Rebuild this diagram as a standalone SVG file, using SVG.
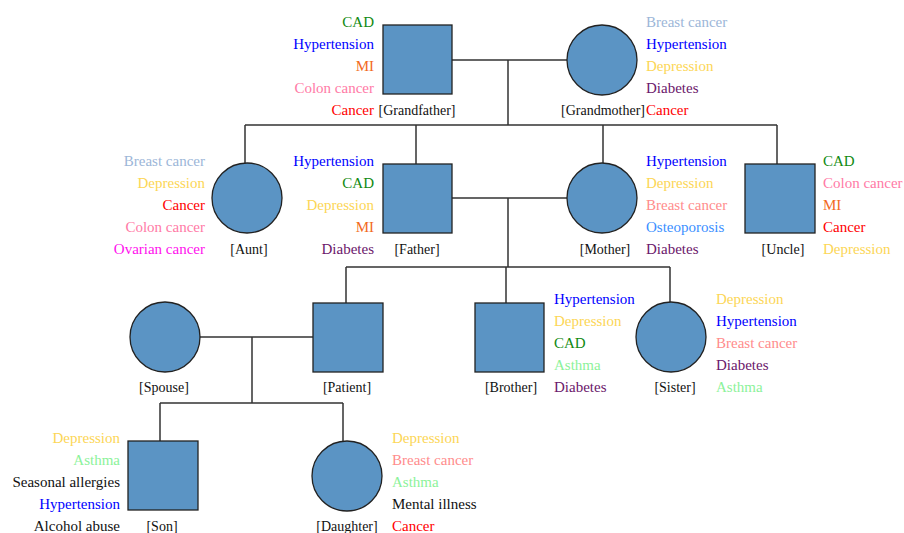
<svg xmlns="http://www.w3.org/2000/svg" width="904" height="533" viewBox="0 0 904 533">
<style>
text{font-family:"Liberation Serif","Times New Roman",serif;font-size:15px}
.lbl{font-size:14px;fill:#111}
.l{stroke:#333;stroke-width:1.5;fill:none}
.s{fill:#5b94c4;stroke:#222;stroke-width:1.3}
.r{text-anchor:end}
.m{text-anchor:middle}
.cad{fill:#118a11}.hyp{fill:#0000ff}.mi{fill:#f26a1e}.col{fill:#ff7aa6}.can{fill:#ff0000}
.bcb{fill:#9cb6d8}.bcp{fill:#ff8c8c}.dep{fill:#fcd656}.dia{fill:#6b176b}.ova{fill:#ff10ee}
.ost{fill:#3b8fff}.ast{fill:#8cf29a}.blk{fill:#111}
</style>
<rect width="904" height="533" fill="#fff"/>
<g id="connectors">
<path class="l" d="M452 60H567M508 60V125M245 125H777M245 125V163M416 125V164M603 125V163M777 125V164"/>
<path class="l" d="M452 198H567M508 198V267M346 267H670M346 267V303M506 267V303M670 267V302"/>
<path class="l" d="M199 337H313M252 337V403M160 403H343M160 403V441M343 403V441"/>
</g>
<g id="grandfather">
<rect class="s" x="383" y="25" width="69" height="69"/>
<text class="lbl m" x="417" y="115">[Grandfather]</text>
<text class="r cad" x="374" y="27">CAD</text>
<text class="r hyp" x="374" y="49">Hypertension</text>
<text class="r mi" x="374" y="71">MI</text>
<text class="r col" x="374" y="93">Colon cancer</text>
<text class="r can" x="374" y="115">Cancer</text>
</g>
<g id="grandmother">
<circle class="s" cx="602" cy="60" r="35"/>
<text class="lbl" x="645" y="115" text-anchor="end">[Grandmother]</text>
<text class="bcb" x="646" y="27">Breast cancer</text>
<text class="hyp" x="646" y="49">Hypertension</text>
<text class="dep" x="646" y="71">Depression</text>
<text class="dia" x="646" y="93">Diabetes</text>
<text class="can" x="646" y="115">Cancer</text>
</g>
<g id="aunt">
<circle class="s" cx="247" cy="198" r="35"/>
<text class="lbl m" x="249" y="254">[Aunt]</text>
<text class="r bcb" x="205" y="166">Breast cancer</text>
<text class="r dep" x="205" y="188">Depression</text>
<text class="r can" x="205" y="210">Cancer</text>
<text class="r col" x="205" y="232">Colon cancer</text>
<text class="r ova" x="205" y="254">Ovarian cancer</text>
</g>
<g id="father">
<rect class="s" x="383" y="164" width="69" height="69"/>
<text class="lbl m" x="417" y="254">[Father]</text>
<text class="r hyp" x="374" y="166">Hypertension</text>
<text class="r cad" x="374" y="188">CAD</text>
<text class="r dep" x="374" y="210">Depression</text>
<text class="r mi" x="374" y="232">MI</text>
<text class="r dia" x="374" y="254">Diabetes</text>
</g>
<g id="mother">
<circle class="s" cx="602" cy="198" r="35"/>
<text class="lbl m" x="605" y="254">[Mother]</text>
<text class="hyp" x="646" y="166">Hypertension</text>
<text class="dep" x="646" y="188">Depression</text>
<text class="bcp" x="646" y="210">Breast cancer</text>
<text class="ost" x="646" y="232">Osteoporosis</text>
<text class="dia" x="646" y="254">Diabetes</text>
</g>
<g id="uncle">
<rect class="s" x="745" y="164" width="70" height="69"/>
<text class="lbl m" x="783" y="254">[Uncle]</text>
<text class="cad" x="823" y="166">CAD</text>
<text class="col" x="823" y="188">Colon cancer</text>
<text class="mi" x="823" y="210">MI</text>
<text class="can" x="823" y="232">Cancer</text>
<text class="dep" x="823" y="254">Depression</text>
</g>
<g id="spouse">
<circle class="s" cx="165" cy="337" r="35"/>
<text class="lbl m" x="164" y="392">[Spouse]</text>
</g>
<g id="patient">
<rect class="s" x="313" y="303" width="70" height="69"/>
<text class="lbl m" x="347" y="392">[Patient]</text>
</g>
<g id="brother">
<rect class="s" x="475" y="303" width="69" height="69"/>
<text class="lbl m" x="511" y="392">[Brother]</text>
<text class="hyp" x="554" y="304">Hypertension</text>
<text class="dep" x="554" y="326">Depression</text>
<text class="cad" x="554" y="348">CAD</text>
<text class="ast" x="554" y="370">Asthma</text>
<text class="dia" x="554" y="392">Diabetes</text>
</g>
<g id="sister">
<circle class="s" cx="671" cy="337" r="35"/>
<text class="lbl m" x="675" y="392">[Sister]</text>
<text class="dep" x="716" y="304">Depression</text>
<text class="hyp" x="716" y="326">Hypertension</text>
<text class="bcp" x="716" y="348">Breast cancer</text>
<text class="dia" x="716" y="370">Diabetes</text>
<text class="ast" x="716" y="392">Asthma</text>
</g>
<g id="son">
<rect class="s" x="128" y="441" width="70" height="69"/>
<text class="lbl m" x="162" y="531">[Son]</text>
<text class="r dep" x="120" y="443">Depression</text>
<text class="r ast" x="120" y="465">Asthma</text>
<text class="r blk" x="120" y="487">Seasonal allergies</text>
<text class="r hyp" x="120" y="509">Hypertension</text>
<text class="r blk" x="120" y="531">Alcohol abuse</text>
</g>
<g id="daughter">
<circle class="s" cx="347" cy="476" r="35"/>
<text class="lbl m" x="347" y="531">[Daughter]</text>
<text class="dep" x="392" y="443">Depression</text>
<text class="bcp" x="392" y="465">Breast cancer</text>
<text class="ast" x="392" y="487">Asthma</text>
<text class="blk" x="392" y="509">Mental illness</text>
<text class="can" x="392" y="531">Cancer</text>
</g>
</svg>
